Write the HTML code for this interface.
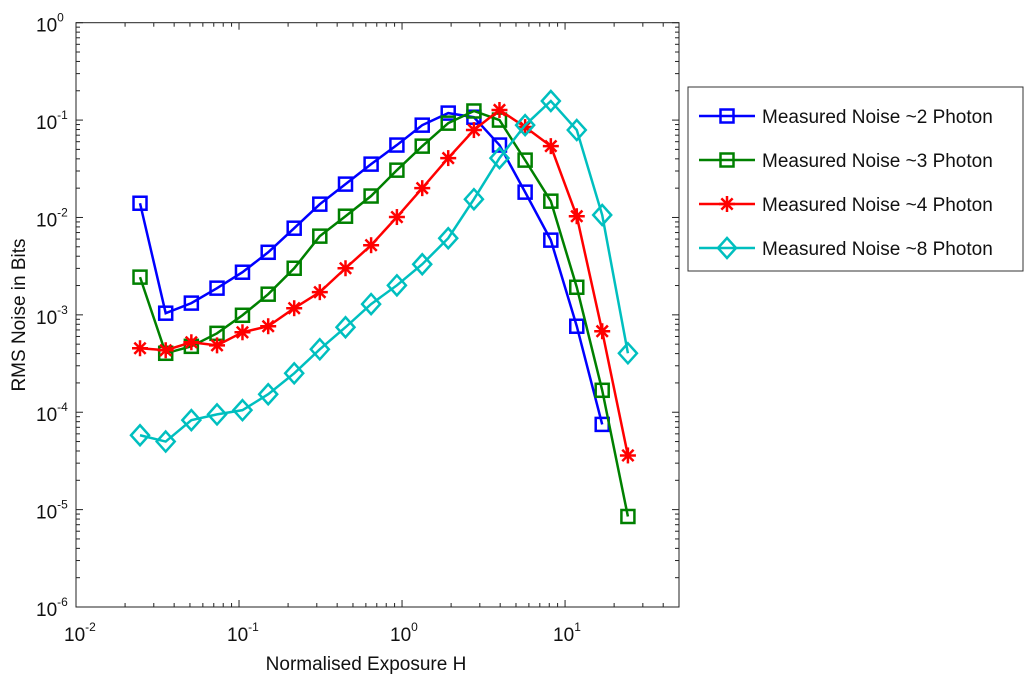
<!DOCTYPE html>
<html><head><meta charset="utf-8"><style>
body{margin:0;background:#fff;}
svg{display:block;font-family:"Liberation Sans",sans-serif;}
</style></head><body>
<svg id="chart" width="1024" height="681"></svg>
<script>
const xValues=[0.0247,0.0355,0.051,0.0733,0.105,0.151,0.218,0.313,0.45,0.646,0.93,1.33,1.92,2.76,3.96,5.69,8.18,11.8,16.9,24.3];
const blueValues=[0.014,1.04e-3,1.32e-3,1.88e-3,2.74e-3,4.39e-3,7.76e-3,0.0137,0.022,0.0353,0.0554,0.0887,0.118,0.107,0.0554,0.0182,5.85e-3,7.64e-4,7.5e-5];
const greenValues=[2.44e-3,4.03e-4,4.75e-4,6.46e-4,9.9e-4,1.63e-3,3.01e-3,6.43e-3,0.0103,0.0166,0.0306,0.054,0.093,0.124,0.1,0.0388,0.0147,1.92e-3,1.68e-4,8.5e-6];
const redValues=[4.54e-4,4.33e-4,5.23e-4,4.86e-4,6.62e-4,7.64e-4,1.17e-3,1.71e-3,3.01e-3,5.19e-3,0.0101,0.02,0.0407,0.079,0.127,0.0848,0.054,0.0103,6.79e-4,3.6e-5];
const cyanValues=[5.8e-5,5.0e-5,8.3e-5,9.5e-5,1.05e-4,1.53e-4,2.51e-4,4.43e-4,7.46e-4,1.29e-3,2.01e-3,3.31e-3,6.12e-3,0.0154,0.0407,0.0887,0.157,0.079,0.0106,4.03e-4];
const seriesNames=["Measured Noise ~2 Photon","Measured Noise ~3 Photon","Measured Noise ~4 Photon","Measured Noise ~8 Photon"];
const xTickExps=[-2,-1,0,1];
const yTickExps=[0,-1,-2,-3,-4,-5,-6];

const NS="http://www.w3.org/2000/svg";
const svg=document.getElementById('chart');
const L=76,R=679,T=22.7,B=607;
const xmin=-2,xmax=Math.log10(50),ymin=-6,ymax=0;
function sx(v){return L+(Math.log10(v)-xmin)/(xmax-xmin)*(R-L);}
function sy(v){return B-(Math.log10(v)-ymin)/(ymax-ymin)*(B-T);}
function mk(tag,attrs,parent){const e=document.createElementNS(NS,tag);for(const k in attrs)e.setAttribute(k,attrs[k]);(parent||svg).appendChild(e);return e;}

const ax=mk('g',{});


const frame=mk('rect',{x:L,y:T,width:R-L,height:B-T,fill:'none',stroke:'#222','stroke-width':1},ax);


// x ticks
for(let d=-2;d<=1;d++){for(let m=1;m<=9;m++){const v=m*Math.pow(10,d);if(v>50)break;const x=sx(v);const len=m===1?7:4;
mk('line',{x1:x,x2:x,y1:B,y2:B-len,stroke:'#222'},ax);mk('line',{x1:x,x2:x,y1:T,y2:T+len,stroke:'#222'},ax);}}
for(let d=-6;d<=0;d++){for(let m=1;m<=9;m++){const v=m*Math.pow(10,d);if(v>1)break;const y=sy(v);const len=m===1?7:4;
mk('line',{x1:L,x2:L+len,y1:y,y2:y,stroke:'#222'},ax);mk('line',{x1:R,x2:R-len,y1:y,y2:y,stroke:'#222'},ax);}}
xTickExps.forEach(e=>{const x=sx(Math.pow(10,e));const t=mk('text',{x:x-12,y:641,'font-size':19,fill:'#111'},ax);


t.innerHTML='10<tspan dy="-10" font-size="12">'+e+'</tspan>';});
yTickExps.forEach(e=>{const y=sy(Math.pow(10,e));const t=mk('text',{x:36,y:y+9,'font-size':19,fill:'#111'},ax);


t.innerHTML='10<tspan dy="-10" font-size="12">'+e+'</tspan>';});
const xt=mk('text',{x:366,y:670,'font-size':19,'text-anchor':'middle',fill:'#111'},ax);


xt.textContent='Normalised Exposure H';
const yt=mk('text',{x:25,y:315,'font-size':19,'text-anchor':'middle',fill:'#111',transform:'rotate(-90 25 315)'},ax);


yt.textContent='RMS Noise in Bits';

function marker(g,type,x,y,c){
 if(type==='sq')mk('rect',{x:x-6.5,y:y-6.5,width:13,height:13,fill:'none',stroke:c,'stroke-width':2.5},g);
 else if(type==='dia')mk('polygon',{points:`${x},${y-10} ${x+9},${y} ${x},${y+10} ${x-9},${y}`,fill:'none',stroke:c,'stroke-width':2.5},g);
 else {for(let a=0;a<4;a++){const an=a*Math.PI/4;mk('line',{x1:x-8*Math.cos(an),y1:y-8*Math.sin(an),x2:x+8*Math.cos(an),y2:y+8*Math.sin(an),stroke:c,'stroke-width':2.5},g);}}
}
const series=[[blueValues,'#0000ff','sq'],[greenValues,'#008000','sq'],[redValues,'#ff0000','star'],[cyanValues,'#00bfbf','dia']];
const sNames=['series-2-photon','series-3-photon','series-4-photon','series-8-photon'];
series.forEach((s,i)=>{const g=mk('g',{});
 
 
 const pts=s[0].map((v,j)=>sx(xValues[j])+','+sy(v)).join(' ');
 mk('polyline',{points:pts,fill:'none',stroke:s[1],'stroke-width':2.5},g);
 s[0].forEach((v,j)=>marker(g,s[2],sx(xValues[j]),sy(v),s[1]));
});
// legend
const lg=mk('g',{});


mk('rect',{x:688,y:87,width:335,height:184,fill:'#fff',stroke:'#333','stroke-width':1},lg);
seriesNames.forEach((n,i)=>{const y=116+i*44;const e=mk('g',{},lg);
 
 
 mk('line',{x1:699,x2:755,y1:y,y2:y,stroke:series[i][1],'stroke-width':2.5},e);
 marker(e,series[i][2],727,y,series[i][1]);
 const t=mk('text',{x:762,y:y+7,'font-size':19,fill:'#111'},e);t.textContent=n;});
</script>
</body></html>
